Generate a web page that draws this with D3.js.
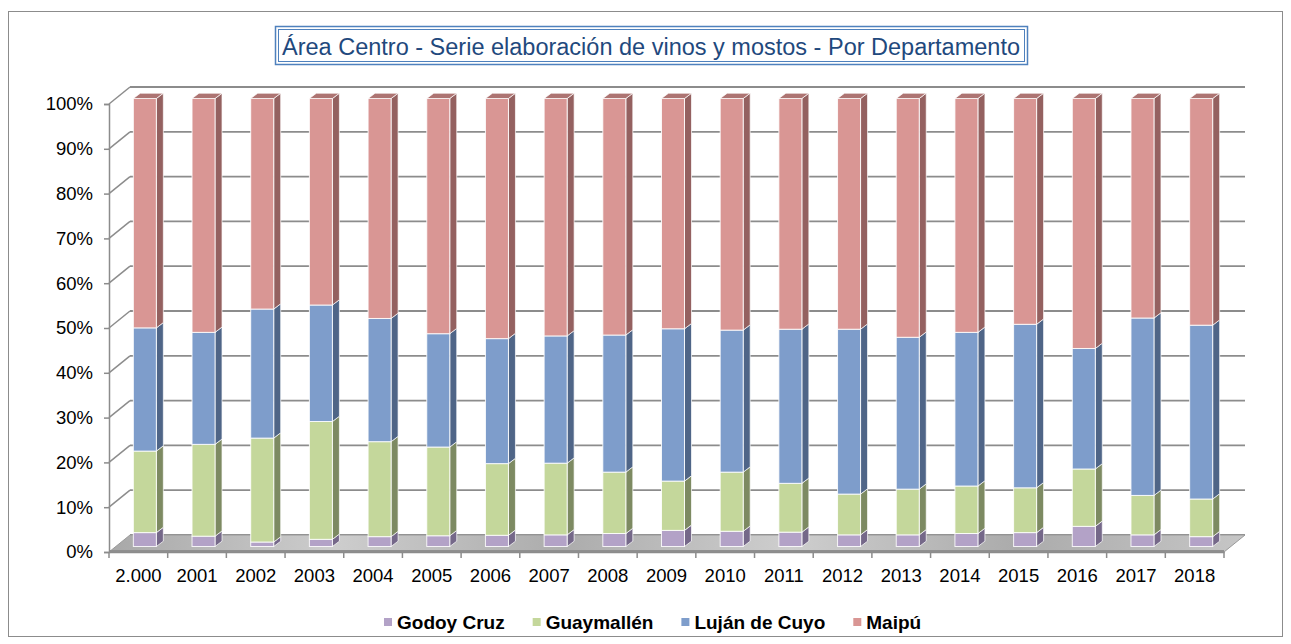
<!DOCTYPE html>
<html lang="es">
<head>
<meta charset="UTF-8">
<title>Área Centro - Serie elaboración de vinos y mostos</title>
<script src="https://d3js.org/d3.v7.min.js"></script>
<style>
    body { margin: 0; background: #fff; }
    svg { display: block; font-family: "Liberation Sans", Arial, sans-serif; }
</style>
</head>
<body>
<div id="chart"></div>
<script>
    // data (percent share of each department)
    const years = ['2.000', '2001', '2002', '2003', '2004', '2005', '2006', '2007', '2008', '2009',
                   '2010', '2011', '2012', '2013', '2014', '2015', '2016', '2017', '2018'];
    const godoyCruz  = [3.1, 2.3, 1.0, 1.6, 2.2, 2.4, 2.5, 2.6, 2.9, 3.6, 3.4, 3.2, 2.6, 2.6, 2.9, 3.1, 4.5, 2.6, 2.2];
    const guaymallen = [18.2, 20.5, 23.2, 26.3, 21.2, 19.8, 16.0, 16.0, 13.7, 11.0, 13.2, 10.9, 9.1, 10.2, 10.6, 10.0, 12.8, 8.8, 8.4];
    const lujanCuyo  = [27.5, 25.0, 28.8, 26.0, 27.5, 25.3, 27.9, 28.4, 30.6, 34.0, 31.7, 34.4, 36.8, 33.9, 34.3, 36.5, 26.9, 39.6, 38.8];
    const maipu      = [51.2, 52.2, 47.0, 46.1, 49.1, 52.5, 53.6, 53.0, 52.8, 51.4, 51.7, 51.5, 51.5, 53.3, 52.2, 50.4, 55.8, 49.0, 50.6];
    const yTicks = [0, 10, 20, 30, 40, 50, 60, 70, 80, 90, 100];

    const series = [
        { key: 'Godoy Cruz',    values: godoyCruz,  front: '#b3a2c7', side: '#756889', top: '#9486a6' },
        { key: 'Guaymallén',    values: guaymallen, front: '#c4d79b', side: '#7d8a62', top: '#a2b37e' },
        { key: 'Luján de Cuyo', values: lujanCuyo,  front: '#7e9dcb', side: '#4f6587', top: '#6580aa' },
        { key: 'Maipú',         values: maipu,      front: '#d99694', side: '#946160', top: '#ad7472' }
    ];

    const W = 1291, H = 644;
    const wall = { dx: 21, dy: -17 };      // full depth of the 3D box
    const barOff = { dx: 6.5, dy: -5.5 };  // front face of the bars
    const barDep = { dx: 7, dy: -5.3 };    // depth of the bars
    const barW = 23;

    const svg = d3.select('#chart').append('svg')
        .attr('width', W).attr('height', H);

    // outer frame
    svg.append('rect')
        .attr('x', 8.5).attr('y', 11.5).attr('width', 1274).attr('height', 625)
        .attr('fill', '#fff').attr('stroke', '#8c8c8c').attr('stroke-width', 1);

    // title box (double border)
    const title = svg.append('g');
    title.append('rect').attr('x', 275.5).attr('y', 26.5).attr('width', 752).attr('height', 38)
        .attr('fill', '#fff').attr('stroke', '#4f81bd').attr('stroke-width', 1.5);
    title.append('rect').attr('x', 278.5).attr('y', 29.5).attr('width', 746).attr('height', 32)
        .attr('fill', 'none').attr('stroke', '#4f81bd').attr('stroke-width', 1);
    title.append('text')
        .attr('x', 651).attr('y', 54.5)
        .attr('text-anchor', 'middle')
        .attr('fill', '#1f497d')
        .style('font-size', '23.5px')
        .text('Área Centro - Serie elaboración de vinos y mostos - Por Departamento');

    // scales (front plane of the box)
    const x = d3.scaleBand().domain(years).range([109, 1224]);
    const y = d3.scaleLinear().domain([0, 100]).range([552, 104]);

    // stacked layout
    const rows = years.map((yr, i) => {
        const r = { year: yr };
        series.forEach(s => { r[s.key] = s.values[i]; });
        return r;
    });
    const stack = d3.stack().keys(series.map(s => s.key)).offset(d3.stackOffsetExpand);
    const stacked = stack(rows);

    const x0 = x.range()[0], x1 = x.range()[1];

    // back wall gridlines
    svg.append('g').selectAll('line')
        .data(yTicks)
        .join('line')
        .attr('x1', x0 + wall.dx).attr('x2', x1 + wall.dx)
        .attr('y1', d => y(d) + wall.dy).attr('y2', d => y(d) + wall.dy)
        .attr('stroke', '#8c8c8c').attr('stroke-width', 1.8);

    // left side wall lines
    svg.append('g').selectAll('line')
        .data(yTicks.filter(d => d > 0))
        .join('line')
        .attr('x1', x0).attr('x2', x0 + wall.dx)
        .attr('y1', d => y(d)).attr('y2', d => y(d) + wall.dy)
        .attr('stroke', '#8c8c8c').attr('stroke-width', 1.5);

    // floor
    const defs = svg.append('defs');
    const grad = defs.append('linearGradient').attr('id', 'floorGrad')
        .attr('x1', '0%').attr('x2', '100%').attr('y1', '0%').attr('y2', '0%');
    [['0%', '#a8a8a8'], ['20%', '#cdcdcd'], ['40%', '#acacac'], ['60%', '#cecece'], ['80%', '#ababab'], ['100%', '#c6c6c6']]
        .forEach(([o, c]) => grad.append('stop').attr('offset', o).attr('stop-color', c));

    svg.append('polygon')
        .attr('points', [
            [x0, y(0)], [x1, y(0)], [x1 + wall.dx, y(0) + wall.dy], [x0 + wall.dx, y(0) + wall.dy]
        ].map(p => p.join(',')).join(' '))
        .attr('fill', 'url(#floorGrad)')
        .attr('stroke', '#9a9a9a').attr('stroke-width', 1);
    svg.append('line')
        .attr('x1', x0).attr('x2', x1).attr('y1', y(0) - 1).attr('y2', y(0) - 1)
        .attr('stroke', '#8f8f8f').attr('stroke-width', 2);

    // bars
    const bars = svg.append('g');
    years.forEach((yr, i) => {
        const left = x(yr) + x.bandwidth() / 2 + barOff.dx - barW / 2;
        const right = left + barW;
        const g = bars.append('g');
        stacked.forEach((layer, si) => {
            const s = series[si];
            const v0 = layer[i][0] * 100, v1 = layer[i][1] * 100;
            const yb = y(v0) + barOff.dy, yt = y(v1) + barOff.dy;
            // side face
            g.append('polygon')
                .attr('points', [[right, yb], [right + barDep.dx, yb + barDep.dy],
                                 [right + barDep.dx, yt + barDep.dy], [right, yt]].map(p => p.join(',')).join(' '))
                .attr('fill', s.side)
                .attr('stroke', '#fff').attr('stroke-opacity', 0.7).attr('stroke-width', 1);
            // front face
            g.append('rect')
                .attr('x', left).attr('y', yt).attr('width', barW).attr('height', yb - yt)
                .attr('fill', s.front)
                .attr('stroke', '#fff').attr('stroke-opacity', 0.85).attr('stroke-width', 1);
            // top face on the last segment
            if (si === stacked.length - 1) {
                g.append('polygon')
                    .attr('points', [[left, yt], [right, yt], [right + barDep.dx, yt + barDep.dy],
                                     [left + barDep.dx, yt + barDep.dy]].map(p => p.join(',')).join(' '))
                    .attr('fill', s.top)
                    .attr('stroke', '#fff').attr('stroke-opacity', 0.7).attr('stroke-width', 1);
            }
        });
    });

    // y axis on the front plane
    const yAxis = svg.append('g')
        .attr('transform', `translate(${x0},0)`)
        .call(d3.axisLeft(y).tickValues(yTicks).tickFormat(d => d + '%').tickSize(5).tickPadding(11));
    yAxis.select('.domain').attr('stroke', '#8c8c8c').attr('stroke-width', 1.5);
    yAxis.selectAll('.tick line').attr('stroke', '#8c8c8c').attr('stroke-width', 1.5);
    yAxis.selectAll('.tick text').attr('fill', '#000').style('font-size', '18.5px')
        .style('font-family', '"Liberation Sans", Arial, sans-serif');

    // x axis on the front plane
    const xAxis = svg.append('g')
        .attr('transform', `translate(0,${y(0)})`)
        .call(d3.axisBottom(x).tickSize(0).tickPadding(17));
    xAxis.select('.domain').attr('stroke', '#8c8c8c').attr('stroke-width', 1.5);
    xAxis.selectAll('.tick text').attr('fill', '#000').style('font-size', '18.5px')
        .style('font-family', '"Liberation Sans", Arial, sans-serif');
    xAxis.selectAll('line.sep')
        .data(years.map(d => x(d)).concat([x1]))
        .join('line')
        .attr('class', 'sep')
        .attr('x1', d => d).attr('x2', d => d)
        .attr('y1', 0).attr('y2', 6)
        .attr('stroke', '#8c8c8c').attr('stroke-width', 1.5);

    // legend
    const legend = svg.append('g').attr('transform', 'translate(0,622)');
    const items = legend.selectAll('g')
        .data(series)
        .join('g');
    items.append('rect').attr('y', -4).attr('width', 8).attr('height', 8).attr('fill', d => d.front);
    items.append('text')
        .attr('x', 13).attr('dy', '0.35em')
        .style('font-size', '19px').style('font-weight', 'bold')
        .attr('fill', '#000')
        .text(d => d.key);
    const gap = 28;
    const widths = [];
    items.each(function () { widths.push(this.getBBox().width); });
    let pos = 384;
    items.attr('transform', (d, i) => {
        const t = `translate(${pos},0)`;
        pos += widths[i] + gap;
        return t;
    });
</script>
</body>
</html>
